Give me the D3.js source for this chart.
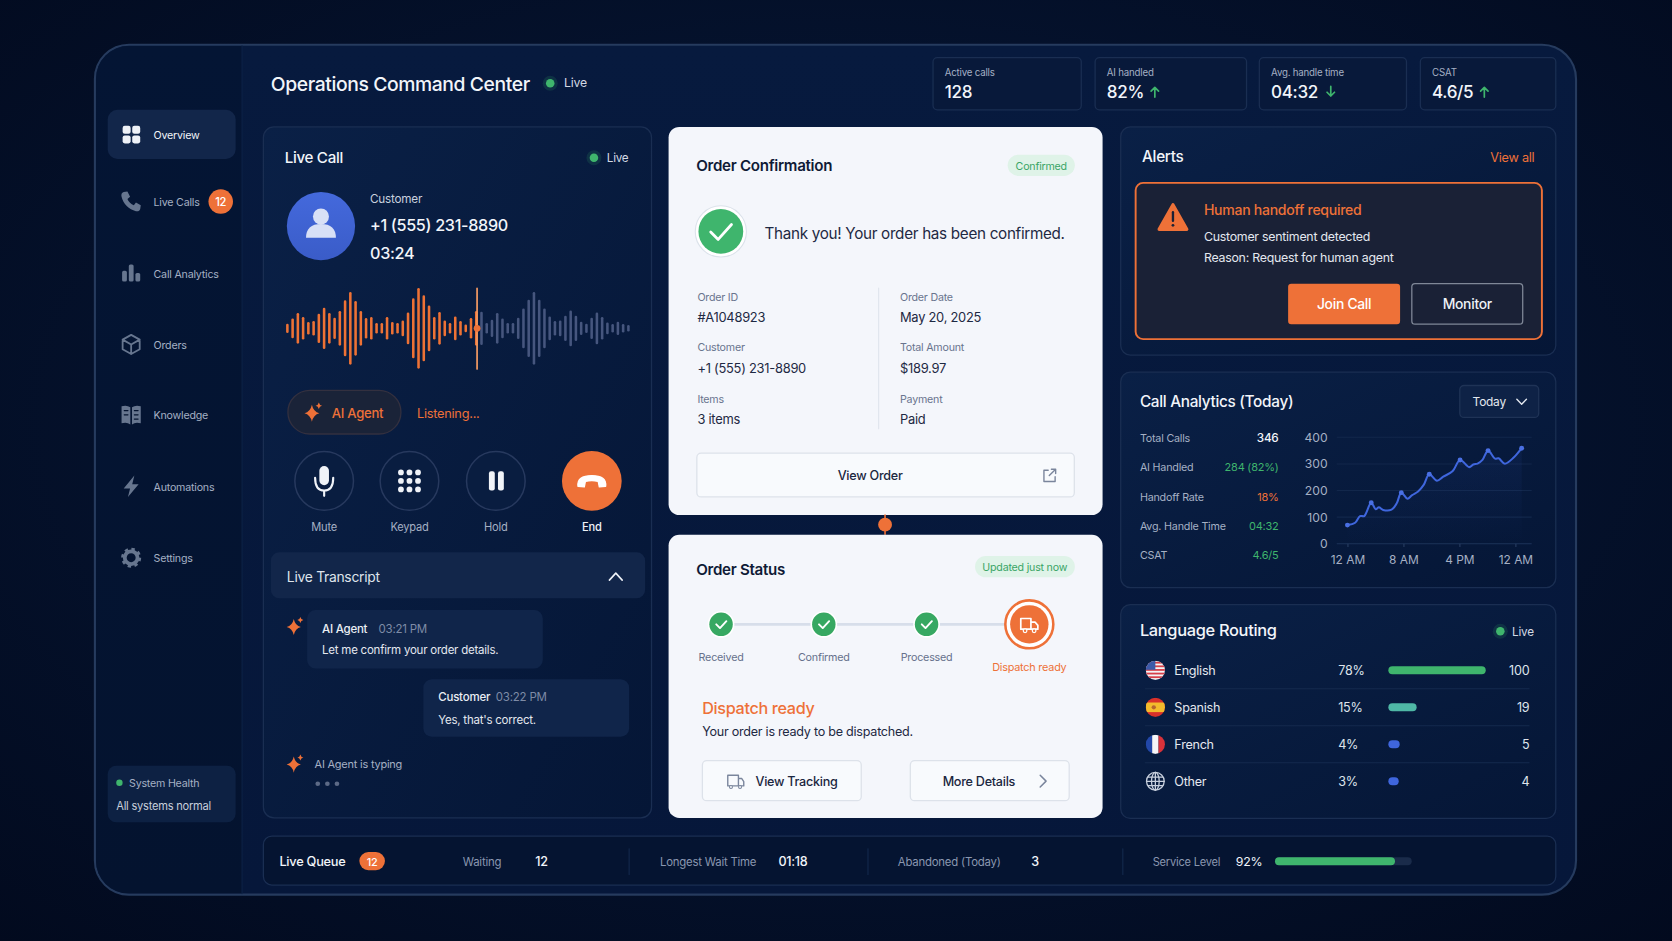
<!DOCTYPE html>
<html><head><meta charset="utf-8">
<style>html,body{margin:0;padding:0;background:#030c22;overflow:hidden}svg{display:block}text{font-family:Inter,"Noto Sans",sans-serif}</style>
<script src="https://cdn.jsdelivr.net/npm/d3@7/dist/d3.min.js"></script>
</head><body><div id="c"></div>
<script>
// ---------- data ----------
const kpiLabels=["Active calls","AI handled","Avg. handle time","CSAT"];
const kpiValues=["128","82%","04:32","4.6/5"];
const navLabels=["Overview","Live Calls","Call Analytics","Orders","Knowledge","Automations","Settings"];
const waveLevels=[10,26,42,30,15,18,40,58,42,28,48,80,105,78,48,27,30,12,12,30,15,12,20,44,86,117,95,65,30,45,20,12,32,18,8,27,48,46,12,22,42,26,12,12,28,56,82,105,82,56,32,18,20,34,50,34,16,10,28,44,30,14,9,16,9,6];
const wavePlayed=37;
const orderLabels=["Order ID","Order Date","Customer","Total Amount","Items","Payment"];
const orderValues=["#A1048923","May 20, 2025","+1 (555) 231-8890","$189.97","3 items","Paid"];
const stepLabels=["Received","Confirmed","Processed","Dispatch ready"];
const statLabels=["Total Calls","AI Handled","Handoff Rate","Avg. Handle Time","CSAT"];
const statValues=["346","284 (82%)","18%","04:32","4.6/5"];
const callHours=[0,1.1,1.8,2.4,3.4,4.05,4.5,5.1,6.3,7.05,7.7,8.6,9.2,10.1,10.9,11.7,12.8,13.7,15.05,16.1,17.4,18,18.6,19.3,20.1,21.1,21.6,22.5,23.8,24.9];
const callValues=[70,79,104,104,154,130,137,127,128,152,192,169,182,196,221,261,237,252,273,315,288,298,301,315,350,320,321,301,325,359];
const peakHours=[0,3.4,7.7,11.7,16.1,20.1,24.9];
const yTicks=[0,100,200,300,400];
const xTicks=[0,8,16,24];
const xTickLabels=["12 AM","8 AM","4 PM","12 AM"];
const langNames=["English","Spanish","French","Other"];
const langShares=["78%","15%","4%","3%"];
const langCounts=[100,19,5,4];
const queueLabels=["Waiting","Longest Wait Time","Abandoned (Today)","Service Level"];
const queueValues=["12","01:18","3","92%"];
const serviceLevel=92;
// ---------- palette ----------
const OR="#ee7138",GR="#3fb56d",WH="#f2f5fa",MU="#a5b0c4",DIM="#7e8ba6",BD="#1a2e52",NAVI="#67768f";
const svg=d3.select("#c").append("svg").attr("width",1672).attr("height",941).attr("viewBox","0 0 1568 882.44");
const defs=svg.append("defs");
function lg(id,stops,x2=0,y2=1){const g=defs.append("linearGradient").attr("id",id).attr("x1",0).attr("y1",0).attr("x2",x2).attr("y2",y2);stops.forEach(s=>g.append("stop").attr("offset",s[0]).attr("stop-color",s[1]).attr("stop-opacity",s[2]===undefined?1:s[2]));}
lg("frameG",[[0,"#071a3e"],[1,"#06173a"]]);
lg("sideG",[[0,"#041534"],[1,"#04132f"]]);
lg("cardG",[[0,"#0a2046"],[1,"#051636"]],1,1);
lg("areaG",[[0,"#3f66dd",.08],[1,"#3f66dd",0]]);
lg("avG",[[0,"#4469dc"],[1,"#3a5cc8"]]);
const pg=defs.append("radialGradient").attr("id","pageG").attr("cx",.5).attr("cy",.45).attr("r",.75);
pg.append("stop").attr("offset",0).attr("stop-color","#071a3c");pg.append("stop").attr("offset",1).attr("stop-color","#020a1e");
const root=svg.append("g");
function R(p,x,y,w,h,r,fill,stroke,sw){return p.append("rect").attr("x",x).attr("y",y).attr("width",w).attr("height",h).attr("rx",r).attr("fill",fill||"none").attr("stroke",stroke||"none").attr("stroke-width",sw||1);}
function C(p,x,y,r,fill,stroke,sw){return p.append("circle").attr("cx",x).attr("cy",y).attr("r",r).attr("fill",fill||"none").attr("stroke",stroke||"none").attr("stroke-width",sw||1);}
function L(p,x1,y1,x2,y2,s,w){return p.append("line").attr("x1",x1).attr("y1",y1).attr("x2",x2).attr("y2",y2).attr("stroke",s).attr("stroke-width",w||1).attr("stroke-linecap","round");}
function P(p,d,fill,stroke,sw,tx,ty){const e=p.append("path").attr("d",d).attr("fill",fill||"none").attr("stroke",stroke||"none").attr("stroke-width",sw||1).attr("stroke-linecap","round").attr("stroke-linejoin","round");if(tx!==undefined)e.attr("transform",`translate(${tx},${ty})`);return e;}
function T(p,x,y,s,size,fill,o={}){return p.append("text").attr("x",x).attr("y",y).text(s).attr("font-size",size).attr("fill",fill).attr("font-weight",o.w||400).attr("text-anchor",o.a||"start").attr("letter-spacing","-0.02em");}
function card(x,y,w,h,r){return R(root,x,y,w,h,r||9,"url(#cardG)",BD,1.2);}
const sparkle=(x,y,s)=>{const g=root.append("g").attr("transform",`translate(${x},${y}) scale(${s})`);
  P(g,"M0,-8 Q1.4,-1.4 7,0 Q1.4,1.4 0,8 Q-1.4,1.4 -7,0 Q-1.4,-1.4 0,-8Z",OR);
  P(g,"M6.5,-10 Q7,-7.5 9.5,-7 Q7,-6.5 6.5,-4 Q6,-6.5 3.5,-7 Q6,-7.5 6.5,-10Z",OR);};
const liveDot=(x,y)=>{C(root,x,y,7,GR).attr("opacity",.15);C(root,x,y,4,GR);};

// page + frame
R(root,0,0,1568,882.44,0,"url(#pageG)");
R(root,89,42,1389,797,32,"url(#frameG)","#263b5e",2);
const clip=defs.append("clipPath").attr("id","fc");R(clip,90,43,1387,795,31);
R(root.append("g").attr("clip-path","url(#fc)"),90,43,137,795,0,"url(#sideG)");
L(root,227,43,227,838,"#0d2347",1);

// header
T(root,254,85,"Operations Command Center",18.1,WH,{w:500});
liveDot(516,78);T(root,529,82,"Live",11.5,"#d3d9e4");
const kpiX=[875,1027,1181,1332],kpiW=[139,142,138,127];
kpiLabels.forEach((l,i)=>{R(root,kpiX[i],54,kpiW[i],49,4,"#08193a",BD,1.2);T(root,kpiX[i]+11,71,l,9.1,MU);});
kpiValues.forEach((v,i)=>T(root,kpiX[i]+11,92,v,16,WH,{w:500}));
const upA=(x,y,c)=>{P(root,`M${x},${y+5}V${y-4}M${x-3.5},${y-.5}L${x},${y-4}L${x+3.5},${y-.5}`,"none",c,1.6);};
const dnA=(x,y,c)=>{P(root,`M${x},${y-5}V${y+4}M${x-3.5},${y+.5}L${x},${y+4}L${x+3.5},${y+.5}`,"none",c,1.6);};
upA(1083,86,GR);dnA(1248,86,GR);upA(1392,86,GR);

// sidebar
const navY=[126,189,256,323,389,456,523];
R(root,101,103,120,46,9,"#12264a");
const ic=navY.map((y,i)=>root.append("g").attr("transform",`translate(123,${y})`));
[[-8,-8],[1,-8],[-8,1],[1,1]].forEach(d=>R(ic[0],d[0],d[1],7.5,7.5,2,"#eef1f7"));
P(ic[1],"M-7,-9L-3.5,-9.5L-1,-4.5L-3.5,-2.5C-2.5,0 0,2.5 2.5,3.5L4.5,1L9,3.5L8.5,7C8,9 6,9.5 4.5,9C-2,7.5 -7.5,2 -9,-4.5C-9.5,-6.5 -9,-8.5 -7,-9Z",NAVI);
R(ic[2],-8.5,-2,4.5,10,1.5,NAVI);R(ic[2],-2.2,-8,4.5,16,1.5,NAVI);R(ic[2],4,0,4.5,8,1.5,NAVI);
P(ic[3],"M0,-9L8,-4.5V4.5L0,9L-8,4.5V-4.5ZM-8,-4.5L0,0L8,-4.5M0,0V9","none",NAVI,1.7);
P(ic[4],"M-9,-8Q-4,-9.5 -.8,-7V9Q-4,6.5 -9,8ZM9,-8Q4,-9.5 .8,-7V9Q4,6.5 9,8Z",NAVI);
P(ic[4],"M-6.5,-4H-3M-6.5,0H-3M3,-4H6.5M3,0H6.5M3,4H6.5","none","#04132f",1.1);
P(ic[5],"M3,-10L-7,2H-1L-3,10L7,-2H1Z",NAVI);
C(ic[6],0,0,6,"none",NAVI,3.6);C(ic[6],0,0,8,"none",NAVI,2.8).attr("stroke-dasharray","3.1,3.18");
navLabels.forEach((l,i)=>T(root,144,navY[i]+4.4,l,10,i==0?"#f0f3f8":MU));
C(root,207,189,11.5,OR);T(root,207,193,"12",10.5,"#fff",{a:"middle",w:500});
R(root,101,718,120,53,8,"#0d2143");C(root,112,734,3,GR);
T(root,121,738.5,"System Health",10,MU);T(root,109,759.5,"All systems normal",10.4,"#c7cfdc");

// Live Call
card(247,119,364,648,10);
T(root,267,153,"Live Call",14.2,WH,{w:500});
liveDot(557,148);T(root,569,152,"Live",11,"#d3d9e4");
C(root,301,212,32,"url(#avG)");
C(root,301,203,7.5,"#d8e0f6");P(root,"M287,223Q287,210 301,210Q315,210 315,223Z","#d8e0f6");
T(root,347,190,"Customer",11,"#c8d0de");
T(root,347,216.7,"+1 (555) 231-8890",15.2,WH,{w:500});
T(root,347,242.7,"03:24",15.2,WH,{w:500});
// waveform
const waveX=d3.scaleLinear().domain([0,waveLevels.length-1]).range([269.5,589.3]);
const waveH=d3.scaleLinear().domain([0,117]).range([0,36.6]);
root.append("g").selectAll("line").data(waveLevels).join("line")
 .attr("x1",(d,i)=>waveX(i)).attr("x2",(d,i)=>waveX(i)).attr("y1",d=>307.9-waveH(d)).attr("y2",d=>307.9+waveH(d))
 .attr("stroke",(d,i)=>i<wavePlayed?"#ee7235":"#46567e").attr("stroke-width",2.4).attr("stroke-linecap","round");
L(root,447.4,270.5,447.4,346,"#f59a63",1.6);C(root,447.4,307.9,3.2,OR);
// agent pill
R(root,270,366,106,41,20.5,"#1a2338","#33303f",1.2);
sparkle(292.5,387.5,1);
T(root,311,392,"AI Agent",12.3,OR,{w:500});T(root,391,392,"Listening...",12,OR);
// buttons
const btnX=[304,384,465],btnL=["Mute","Keypad","Hold"];
btnX.forEach((x,i)=>{C(root,x,451,27.5,"#091d40","#27395e",1.4);T(root,x,497.6,btnL[i],10.4,MU,{a:"middle"});});
R(root,299.5,437,9,18,4.5,"#f0f3f8");P(root,"M295.5,448Q295.5,460 304,460Q312.5,460 312.5,448M304,460V465","none","#f0f3f8",2);
[-8,0,8].forEach(dx=>[-8,0,8].forEach(dy=>C(root,384+dx,451+dy,2.7,"#f0f3f8")));
R(root,458.5,442,5.5,18,2,"#f0f3f8");R(root,467,442,5.5,18,2,"#f0f3f8");
C(root,555,451,28,OR);T(root,555,497.6,"End",10.4,"#eef1f7",{a:"middle",w:500});
P(root,"M542,456Q541,446 555,446Q569,446 568,456L562,456.5L561,451.5Q555,450 549,451.5L548,456.5Z","#fff","#fff",1.2);
// transcript
R(root,254,518,351,43,8,"#12264a");
T(root,269,546,"Live Transcript",13,"#dfe4ec");
P(root,"M571.5,544L577.5,537.5L583.5,544","none","#eef1f7",1.5);
sparkle(275.5,588,.95);
R(root,288,572,221,55,8,"#10254a");
T(root,302,593.7,"AI Agent",10.8,"#eaeef4",{w:500});T(root,355,593.7,"03:21 PM",10.8,DIM);
T(root,302,613.7,"Let me confirm your order details.",10.8,"#e4e8ef");
R(root,397,637,193,54,8,"#10254a");
T(root,411,657.7,"Customer",10.8,"#eaeef4",{w:500});T(root,465,657.7,"03:22 PM",10.8,DIM);
T(root,411,678.5,"Yes, that's correct.",10.8,"#e4e8ef");
sparkle(275.5,717,.95);
T(root,295,720,"AI Agent is typing",10.3,MU);
[298,307,316].forEach(x=>C(root,x,735,2.2,"#5d6a86"));

// Order Confirmation
R(root,627,119,407,364,10,"#f4f6fb");
T(root,653,160,"Order Confirmation",14.2,"#0f1a36",{w:600});
R(root,945,145,63,20,10,"#dff3e8");T(root,976.5,159,"Confirmed",10,"#3aa566",{a:"middle"});
C(root,676,217,24,"#fff","#dbe2ea",1);C(root,676,217,21,GR);
P(root,"M666.5,217.5L673.5,224.5L686,210.5","none","#fff",2.6);
T(root,717,224,"Thank you! Your order has been confirmed.",14.3,"#1e2943");
L(root,824,270,824,402,"#dfe4ec",1);
const ordX=[654,844],ordY=[282,329.5,377.5];
orderLabels.forEach((l,i)=>{const x=ordX[i%2],y=ordY[Math.floor(i/2)];T(root,x,y,l,10,"#69748e");T(root,x,y+20,orderValues[i],12.1,"#1e2943");});
R(root,653.5,425,354,41,4,"#f8fafd","#dde2ea",1.2);
T(root,816,450.6,"View Order",11.8,"#1b2640",{a:"middle",w:500});
P(root,"M983,441H979V451.5H989.5V447M984,446L990,440M986,440H990V444","none","#7a859c",1.3);
L(root,830,483,830,501,OR,1.5);C(root,830,492,6.5,OR);

// Order Status
R(root,627,501.5,407,265.5,10,"#f4f6fb");
T(root,653,539,"Order Status",14.2,"#0f1a36",{w:600});
R(root,914.4,521.4,93.6,20,10,"#dff3e8");T(root,961,535.2,"Updated just now",10,"#3aa566",{a:"middle"});
const stepX=d3.scalePoint().domain(stepLabels).range([676.2,965.3]);
L(root,stepX(stepLabels[0]),585.5,stepX(stepLabels[3]),585.5,"#d7deea",2.6);
stepLabels.forEach((l,i)=>{const x=stepX(l);
 if(i<3){C(root,x,585.5,12.5,"#fff");C(root,x,585.5,11,"#37a862");P(root,`M${x-4.5},585.5L${x-1},589L${x+5},582.5`,"none","#fff",1.8);T(root,x,619.5,l,10.1,"#66718c",{a:"middle"});}
 else{C(root,x,585.5,22.5,"#fff",OR,2.4);C(root,x,585.5,18,OR);T(root,x,628.8,l,10.2,OR,{a:"middle"});
  P(root,`M${x-8},580H${x+1.5}V590H${x-8}ZM${x+1.5},583.5H${x+5.5}L${x+8},586.5V590H${x+1.5}`,"none","#fff",1.6);C(root,x-4,591.5,1.7,OR,"#fff",1.2);C(root,x+4.5,591.5,1.7,OR,"#fff",1.2);}
});
T(root,658.5,669.5,"Dispatch ready",15.2,OR,{w:500});
T(root,658.5,689.8,"Your order is ready to be dispatched.",11.8,"#1e2943");
R(root,658.7,713.4,149,37.5,4,"#f8fafd","#dde2ea",1.2);R(root,853.7,713.4,149,37.5,4,"#f8fafd","#dde2ea",1.2);
P(root,"M682.5,727H692.5V737H682.5ZM692.5,730H695.5L697.5,733V737H692.5","none","#7a859c",1.3);C(root,685.5,738,1.4,"#f8fafd","#7a859c",1);C(root,694,738,1.4,"#f8fafd","#7a859c",1);
T(root,708.5,737,"View Tracking",11.8,"#1b2640",{w:500});
T(root,884,737,"More Details",11.8,"#1b2640",{w:500});
P(root,"M975.5,727L981,732.5L975.5,738","none","#7a859c",1.4);

// Alerts
card(1051,119,408,214);
T(root,1071,152,"Alerts",14.4,WH,{w:500});
T(root,1439,151.5,"View all",11.9,OR,{a:"end"});
R(root,1065,171.5,381,146.5,7,"#1a2136",OR,1.8);
P(root,"M1100,192L1113,215H1087Z",OR,OR,3);L(root,1100,199,1100,207,"#1a2136",2.2);C(root,1100,211.3,1.3,"#1a2136");
T(root,1129,202,"Human handoff required",13.2,OR,{w:500});
T(root,1129,226,"Customer sentiment detected",11.6,"#e4e8ef");
T(root,1129,245.8,"Reason: Request for human agent",11.6,"#e4e8ef");
R(root,1208,266,105,38,3,OR);T(root,1260.5,290,"Join Call",13,"#fff",{a:"middle",w:500});
R(root,1324,266,104,38,3,"#1a2136","#7f8797",1.2);T(root,1376,290,"Monitor",13,"#eef1f7",{a:"middle",w:500});

// Call Analytics
card(1051,349,408,202);
T(root,1069,382,"Call Analytics (Today)",14.4,WH,{w:500});
R(root,1369,361.5,74,30,4,"#0e2246","#1f3356",1.2);T(root,1381,380.7,"Today",11.2,"#e4e8ef");
P(root,"M1422.5,374.5L1427,379L1431.5,374.5","none","#e4e8ef",1.3);
const statCol=[WH,GR,OR,GR,GR],statY=[414.6,442,469.5,497,524.5];
statLabels.forEach((l,i)=>{T(root,1069,statY[i],l,10.1,MU);T(root,1199,statY[i],statValues[i],i==0?11:10.3,statCol[i],{a:"end",w:i==0?500:400});});
const xS=d3.scaleLinear().domain([0,24]).range([1263.6,1421.1]);
const yS=d3.scaleLinear().domain([0,400]).range([509.9,410.1]);
const gr=root.append("g");
gr.selectAll("line").data(yTicks).join("line").attr("x1",1253.6).attr("x2",1436.4).attr("y1",d=>yS(d)).attr("y2",d=>yS(d)).attr("stroke",d=>d==0?"#1d3358":"#12274b").attr("stroke-width",1);
const yAx=root.append("g").attr("transform","translate(1245,0)").call(d3.axisLeft(yS).tickValues(yTicks).tickSize(0).tickPadding(0));
yAx.select(".domain").remove();yAx.selectAll("text").attr("font-size",11.4).attr("fill",MU).attr("font-family","Inter");
const xAx=root.append("g").attr("transform","translate(0,509.9)").call(d3.axisBottom(xS).tickValues(xTicks).tickSize(3).tickPadding(8).tickFormat((d,i)=>xTickLabels[i]));
xAx.select(".domain").remove();xAx.selectAll("line").attr("stroke","#2a3f63");xAx.selectAll("text").attr("font-size",11.2).attr("fill",MU).attr("font-family","Inter");
const pts=callHours.map((h,i)=>[h,callValues[i]]);
const curve=d3.curveCatmullRom.alpha(.5);
root.append("path").datum(pts).attr("fill","url(#areaG)").attr("d",d3.area().x(d=>xS(d[0])).y0(yS(0)).y1(d=>yS(d[1])).curve(curve));
root.append("path").datum(pts).attr("fill","none").attr("stroke","#3f66dd").attr("stroke-width",1.9).attr("stroke-linejoin","round").attr("d",d3.line().x(d=>xS(d[0])).y(d=>yS(d[1])).curve(curve));
root.append("g").selectAll("circle").data(pts.filter(d=>peakHours.includes(d[0]))).join("circle").attr("cx",d=>xS(d[0])).attr("cy",d=>yS(d[1])).attr("r",2.3).attr("fill","#4a70e4");

// Language routing
card(1051,567,408,200.5);
T(root,1069,596.5,"Language Routing",15.4,WH,{w:500});
liveDot(1407,592);T(root,1418,596,"Live",11,"#d3d9e4");
const rowY=[628.6,663.3,698,732.7];
const barW=d3.scaleLinear().domain([4,5,19,100]).range([9.7,10.6,26.5,91.3]);
const barC=[GR,"#4fb8a6","#3f66dd","#3f66dd"];
const fx=1083.5,fr=9;
langNames.forEach((n,i)=>{const y=rowY[i];
 T(root,1101.3,y+4.2,n,11.8,"#e4e8ef");
 T(root,1255,y+4.2,langShares[i],11.8,"#dfe4ec");
 T(root,1434.2,y+4.2,langCounts[i],11.8,"#dfe4ec",{a:"end"});
 R(root,1302,y-3.75,barW(langCounts[i]),7.5,3.75,barC[i]);
 if(i<3)L(root,1074,y+17.3,1434,y+17.3,"#142a4e",1);
 const cp=defs.append("clipPath").attr("id","f"+i);C(cp,fx,y,fr);
 const g=root.append("g").attr("clip-path",`url(#f${i})`);
 if(i==0){R(g,fx-fr,y-fr,2*fr,2*fr,0,"#f4f4f6");[-8,-4.6,-1.2,2.2,5.6].forEach(d=>R(g,fx-fr,y+d,2*fr,1.7,0,"#d6404a"));R(g,fx-fr,y-fr,fr,fr-.5,0,"#3c5aa8");}
 if(i==1){R(g,fx-fr,y-fr,2*fr,2*fr,0,"#d9302a");R(g,fx-fr,y-4.5,2*fr,9,0,"#f3bb2c");C(g,fx-1.5,y,2,"#b5662e");}
 if(i==2){R(g,fx-fr,y-fr,6,2*fr,0,"#2247a8");R(g,fx-3,y-fr,6,2*fr,0,"#f6f6f8");R(g,fx+3,y-fr,6,2*fr,0,"#d9323a");}
 if(i==3){const b=root.append("g").attr("fill","none").attr("stroke","#c8d0de").attr("stroke-width",1.2);
  C(b,fx,y,8.3,"none","#c8d0de",1.2);b.append("ellipse").attr("cx",fx).attr("cy",y).attr("rx",3.6).attr("ry",8.3);
  L(b,fx-8.3,y,fx+8.3,y,"#c8d0de",1.2);L(b,fx-7,y-4,fx+7,y-4,"#c8d0de",1.2);L(b,fx-7,y+4,fx+7,y+4,"#c8d0de",1.2);L(b,fx,y-8.3,fx,y+8.3,"#c8d0de",1.2);}
});

// Live queue
R(root,247,784,1212,46,8,"#051431",BD,1.2);
T(root,262,812,"Live Queue",12,WH,{w:500});
R(root,337,799,24,17,8.5,OR);T(root,349,811.8,"12",10.2,"#fff",{a:"middle",w:500});
const qLX=[434,619,842,1081],qVX=[502,730,967,1159],qDiv=[590,814,1053];
queueLabels.forEach((l,i)=>{T(root,qLX[i],812,l,i==3?10.4:10.7,"#8a97b0");T(root,qVX[i],812,queueValues[i],i==3?11.6:11.8,WH,{w:i==3?400:500});});
qDiv.forEach(x=>L(root,x,796,x,820,"#142a4e",1));
const sl=d3.scaleLinear().domain([0,92]).range([0,112.5]);
R(root,1195.7,804,128.2,7.5,3.75,"#1a2b4a");R(root,1195.7,804,sl(serviceLevel),7.5,3.75,GR);
</script></body></html>
